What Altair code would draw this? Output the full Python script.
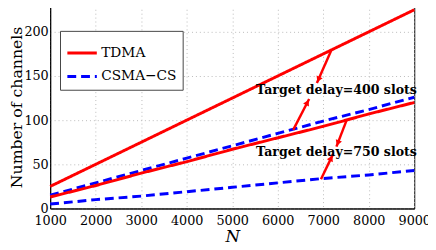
import altair as alt
import pandas as pd
import numpy as np

N = [1000, 2000, 3000, 4000, 5000, 6000, 7000, 8000, 9000]
tdma_400 = [25, 50, 75, 100, 125, 150, 175, 200, 225]
csma_400 = [15, 29, 43, 57, 71, 85, 99, 112, 126]
tdma_750 = [13, 26, 40, 53, 67, 80, 93, 107, 120]
csma_750 = [5, 10, 14, 19, 24, 29, 34, 38, 43]

series = [
    ("TDMA", "400", tdma_400),
    ("CSMA\u2212CS", "400", csma_400),
    ("TDMA", "750", tdma_750),
    ("CSMA\u2212CS", "750", csma_750),
]

rows = []
for proto, delay, vals in series:
    for n, v in zip(N, vals):
        rows.append({"N": n, "ch": v, "proto": proto, "delay": delay})
df = pd.DataFrame(rows)

# arrows: start (on line) -> end (head tip)
arrow_x1 = [7180, 6340, 7510, 6950]
arrow_y1 = [179.5, 89, 99.5, 33]
arrow_x2 = [6860, 6690, 7290, 7210]
arrow_y2 = [142, 124, 70, 61]

label_text = ["Target delay=400 slots", "Target delay=750 slots"]
label_x = [7290, 7290]
label_y = [134, 63.5]

W, H = 371, 207
XMIN, XMAX, YMIN, YMAX = 1000, 9000, 0, 230
SERIF = "DejaVu Serif"

adf = pd.DataFrame({"x1": arrow_x1, "y1": arrow_y1, "x2": arrow_x2, "y2": arrow_y2})
kx = W / (XMAX - XMIN)
ky = H / (YMAX - YMIN)
dxp = (adf.x2 - adf.x1) * kx
dyp = -(adf.y2 - adf.y1) * ky
L = np.hypot(dxp, dyp)
adf["ang"] = (np.degrees(np.arctan2(dxp, -dyp)) % 360).round(2)
back = 4.0
adf["hx"] = adf.x2 - (dxp / L) * back / kx
adf["hy"] = adf.y2 + (dyp / L) * back / ky

tdf = pd.DataFrame({"t": label_text, "x": label_x, "y": label_y})

xs = alt.Scale(domain=[XMIN, XMAX], nice=False)
ys = alt.Scale(domain=[YMIN, YMAX], nice=False)
order = ["TDMA", "CSMA\u2212CS"]

legend = alt.Legend(
    title=None, orient="none", legendX=10, legendY=26,
    symbolType="stroke", symbolSize=900, symbolStrokeWidth=3,
    labelFont=SERIF, labelFontSize=14, labelColor="black",
    strokeColor="#444", fillColor="white", padding=6, rowPadding=-8,
    labelOffset=3,
)

lines = alt.Chart(df).mark_line(strokeWidth=3).encode(
    x=alt.X("N:Q", scale=xs,
            axis=alt.Axis(values=N, title="N", titleFontStyle="italic",
                          format="d", labelPadding=6, titlePadding=2)),
    y=alt.Y("ch:Q", scale=ys,
            axis=alt.Axis(values=[0, 50, 100, 150, 200],
                          title="Number of channels", labelPadding=2,
                          titleX=-29, titleY=H / 2, titleAngle=270,
                          titleAlign="center", titleBaseline="alphabetic",
                          titleFontSize=16)),
    color=alt.Color("proto:N", scale=alt.Scale(domain=order, range=["#ff0000", "#0000ff"]),
                    legend=legend),
    strokeDash=alt.StrokeDash("proto:N", scale=alt.Scale(domain=order, range=[[1, 0], [9, 5]]),
                              legend=legend),
    detail="delay:N",
)

shafts = alt.Chart(adf).mark_rule(color="#ff0000", strokeWidth=2.5).encode(
    x="x1:Q", y="y1:Q", x2="x2:Q", y2="y2:Q"
)

heads = alt.Chart(adf).mark_point(
    filled=True, color="#ff0000", opacity=1, size=45, shape="triangle-up",
).encode(x="hx:Q", y="hy:Q", angle=alt.Angle("ang:Q", scale=None))

texts = alt.Chart(tdf).mark_text(
    font=SERIF, fontWeight="bold", fontSize=12.8, color="black",
    align="center", baseline="middle",
).encode(x="x:Q", y="y:Q", text="t:N")

chart = alt.layer(lines, shafts, heads, texts).properties(
    width=W, height=H,
    autosize=alt.AutoSizeParams(type="none"),
    padding={"left": 43, "top": -5, "right": 14, "bottom": 40},
).configure_axis(
    labelFont=SERIF, labelFontSize=13, labelColor="black",
    titleFont=SERIF, titleFontSize=17, titleColor="black",
    titleFontWeight="normal",
    domainColor="black", tickSize=0,
    gridColor="#bbbbbb", gridDash=[1, 3], gridWidth=1,
).configure_axisX(labelFlush=False).configure_view(
    stroke="black", strokeWidth=1
)

chart.save("out.html", embed_options={"renderer": "svg", "actions": False})
